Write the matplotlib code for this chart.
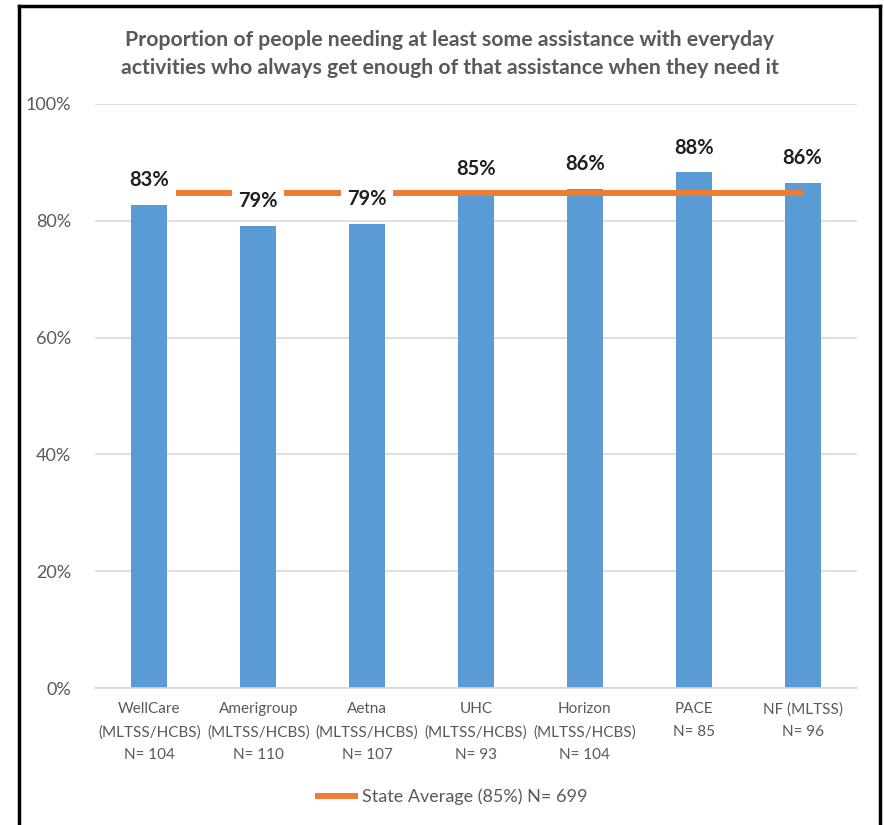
import numpy as np
import matplotlib.pyplot as plt
from matplotlib.lines import Line2D

plt.rcParams['font.family'] = ['Lato', 'DejaVu Sans']

plans = ['WellCare\n(MLTSS/HCBS)\nN= 104', 'Amerigroup\n(MLTSS/HCBS)\nN= 110',
         'Aetna\n(MLTSS/HCBS)\nN= 107', 'UHC\n(MLTSS/HCBS)\nN= 93',
         'Horizon\n(MLTSS/HCBS)\nN= 104', 'PACE\nN= 85', 'NF (MLTSS)\nN= 96']
values = [82.7, 79.1, 79.5, 84.6, 85.5, 88.3, 86.5]
labels = ['83%', '79%', '79%', '85%', '86%', '88%', '86%']
state_avg = 84.8
legend_label = 'State Average (85%) N= 699'
title = ('Proportion of people needing at least some assistance with everyday\n'
         'activities who always get enough of that assistance when they need it')

gray = '#595959'
fig = plt.figure(figsize=(8.84, 8.25), dpi=100)
ax = fig.add_axes([0.1075, 0.166, 0.862, 0.708])

x = np.arange(len(plans))
ax.bar(x, values, width=0.33, color='#5B9BD5', zorder=2)
ax.plot(x, [state_avg] * len(x), color='#ED7D31', lw=4.3, zorder=3,
        solid_capstyle='butt', label=legend_label)

for xi, v, lab in zip(x, values, labels):
    ax.text(xi, v + 4.2, lab, ha='center', va='center', fontsize=14.5,
            fontweight='bold', color='#1f1f1f', zorder=4,
            bbox=dict(facecolor='white', edgecolor='none', pad=4.5))

ax.set_xlim(-0.5, len(plans) - 0.5)
ax.set_ylim(0, 100)
ax.set_yticks(range(0, 101, 20))
ax.set_yticklabels([f'{t}%' for t in range(0, 101, 20)])
ax.set_xticks(x)
ax.set_xticklabels(plans, linespacing=1.8)
ax.tick_params(axis='both', length=0, labelsize=11, colors=gray)
ax.tick_params(axis='y', labelsize=13, pad=17)
ax.tick_params(axis='x', pad=10)
ax.grid(axis='y', color='#d9d9d9', lw=1.2, zorder=0)
for s in ['left', 'right', 'top']:
    ax.spines[s].set_visible(False)
ax.spines['bottom'].set_color('#d9d9d9')
ax.spines['bottom'].set_linewidth(1.2)

fig.text(0.509, 0.934, title, ha='center', va='center', fontsize=15.3,
         fontweight='bold', color=gray, linespacing=1.5)

leg = fig.legend(loc='center', bbox_to_anchor=(0.51, 0.034), frameon=False,
                 fontsize=13, handlelength=2.4, handletextpad=0.2)
for t in leg.get_texts():
    t.set_color(gray)

# outer frame
fig.add_artist(Line2D([19 / 884, 19 / 884], [0, 1 - 5.5 / 825], color='black', lw=2.5))
fig.add_artist(Line2D([19 / 884, 880 / 884], [1 - 5.5 / 825, 1 - 5.5 / 825], color='black', lw=2.5))
fig.add_artist(Line2D([880 / 884, 880 / 884], [0, 1 - 5.5 / 825], color='black', lw=2.5))

fig.savefig('out.png', dpi=100)
